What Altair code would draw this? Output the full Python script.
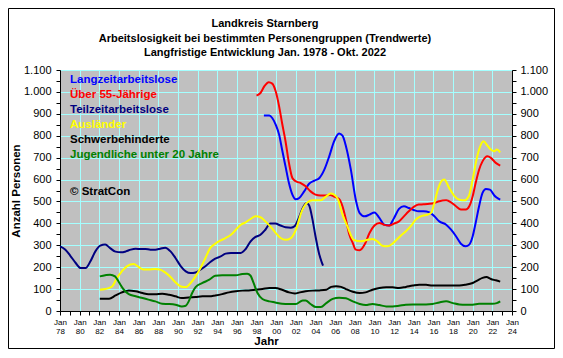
import altair as alt
import pandas as pd

# ---------------- data ----------------
SERIES = ["Langzeitarbeitslose", "Über 55-Jährige", "Teilzeitarbeitslose",
          "Ausländer", "Schwerbehinderte", "Jugendliche unter 20 Jahre"]
COLORS = ["#0000FF", "#FF0000", "#000080", "#FFFF00", "#000000", "#008000"]

LZ_YEARS = [1998.75, 1999.3, 1999.6, 1999.95, 2000.3, 2000.6, 2000.95, 2001.3, 2001.65, 2002.0,
            2002.35, 2002.85, 2003.35, 2003.9, 2004.4, 2004.9, 2005.4, 2005.9, 2006.4, 2006.75,
            2007.1, 2007.6, 2008.1, 2008.5, 2009.0, 2009.5, 2010.0, 2010.5, 2011.0, 2011.5,
            2012.0, 2012.5, 2013.0, 2013.5, 2014.0, 2014.5, 2015.0, 2015.6, 2016.1, 2016.6,
            2017.3, 2017.8, 2018.3, 2018.8, 2019.3, 2019.65, 2020.0, 2020.3, 2020.65, 2021.0,
            2021.35, 2021.75, 2022.2, 2022.4, 2022.8]
LZ_VALUES = [892, 892, 881, 851, 805, 737, 660, 584, 531, 510,
             516, 546, 581, 595, 607, 645, 706, 775, 810, 800,
             752, 645, 508, 447, 432, 440, 450, 425, 394, 390,
             425, 466, 478, 470, 461, 455, 455, 450, 432, 409,
             394, 371, 341, 307, 295, 303, 341, 402, 478, 539,
             557, 554, 527, 519, 508]

U55_YEARS = [1998.0, 1998.4, 1998.8, 1999.25, 1999.6, 1999.95, 2000.3, 2000.6, 2000.95, 2001.3,
             2001.65, 2002.0, 2002.5, 2003.0, 2003.5, 2004.0, 2004.5, 2005.0, 2005.5, 2005.9,
             2006.4, 2006.75, 2007.1, 2007.45, 2007.8, 2008.1, 2008.5, 2009.0, 2009.5, 2010.0,
             2010.5, 2011.0, 2011.5, 2012.0, 2012.5, 2013.0, 2013.5, 2014.0, 2014.5, 2015.0,
             2015.6, 2016.1, 2016.6, 2017.3, 2017.8, 2018.3, 2018.8, 2019.3, 2019.65, 2020.0,
             2020.3, 2020.65, 2021.0, 2021.5, 2021.85, 2022.35, 2022.8]
U55_VALUES = [983, 995, 1026, 1044, 1038, 1003, 934, 858, 775, 676,
              607, 592, 584, 569, 546, 531, 527, 527, 530, 522,
              511, 478, 417, 348, 310, 280, 277, 303, 356, 390,
              402, 393, 390, 399, 409, 432, 455, 475, 486, 487,
              489, 493, 501, 505, 496, 478, 463, 463, 478, 524,
              584, 645, 683, 706, 699, 676, 664]

TZ_YEARS = [1978.0, 1978.55, 1979.05, 1979.6, 1980.1, 1980.6, 1981.1, 1981.6, 1982.1, 1982.6,
            1983.1, 1983.65, 1984.2, 1984.7, 1985.2, 1985.7, 1986.2, 1986.7, 1987.2, 1987.7,
            1988.2, 1988.7, 1989.25, 1989.75, 1990.3, 1990.8, 1991.3, 1991.8, 1992.3, 1992.8,
            1993.3, 1993.8, 1994.35, 1994.85, 1995.4, 1995.9, 1996.4, 1996.9, 1997.4, 1997.9,
            1998.4, 1998.9, 1999.4, 1999.9, 2000.45, 2000.95, 2001.5, 2001.9, 2002.3, 2002.65,
            2003.1, 2003.35, 2003.7, 2004.0, 2004.35, 2004.6, 2004.77]
TZ_VALUES = [295, 280, 252, 219, 196, 196, 227, 272, 298, 303,
             287, 271, 268, 272, 280, 284, 283, 283, 280, 280,
             284, 289, 272, 242, 204, 181, 173, 176, 189, 204,
             224, 239, 249, 262, 265, 265, 265, 283, 318, 338,
             348, 371, 399, 399, 390, 382, 380, 388, 425, 465,
             493, 483, 417, 341, 265, 227, 207]

AU_YEARS = [1982.05, 1982.6, 1983.3, 1983.8, 1984.3, 1984.8, 1985.5, 1986.0, 1986.5, 1987.0,
            1987.7, 1988.2, 1988.7, 1989.25, 1989.75, 1990.3, 1990.8, 1991.3, 1991.8, 1992.3,
            1992.8, 1993.3, 1993.8, 1994.35, 1994.85, 1995.4, 1995.9, 1996.4, 1996.9, 1997.4,
            1997.9, 1998.4, 1998.9, 1999.4, 1999.9, 2000.45, 2000.95, 2001.5, 2002.0, 2002.6,
            2003.2, 2003.7, 2004.5, 2005.0, 2005.55, 2005.9, 2006.3, 2006.7, 2007.25, 2007.9,
            2008.6, 2009.3, 2009.8, 2010.3, 2010.8, 2011.3, 2011.8, 2012.2, 2012.7, 2013.2,
            2013.7, 2014.2, 2014.7, 2015.25, 2015.75, 2016.1, 2016.45, 2016.8, 2017.1, 2017.6,
            2018.1, 2018.65, 2019.15, 2019.6, 2020.0, 2020.35, 2020.7, 2021.1, 2021.5, 2021.85,
            2022.2, 2022.45, 2022.8]
AU_VALUES = [97, 100, 112, 151, 181, 204, 214, 201, 189, 189,
             192, 189, 176, 155, 131, 112, 109, 128, 158, 196,
             242, 288, 307, 322, 333, 348, 371, 394, 405, 420,
             432, 428, 409, 386, 359, 333, 325, 333, 370, 455,
             496, 505, 505, 520, 536, 531, 508, 447, 386, 325,
             318, 325, 329, 318, 298, 295, 306, 323, 345, 364,
             387, 417, 432, 438, 447, 493, 554, 592, 600, 562,
             527, 508, 505, 524, 600, 683, 744, 775, 755, 737,
             729, 737, 724]

SB_YEARS = [1982.05, 1983.0, 1983.65, 1984.3, 1985.0, 1985.7, 1986.4, 1987.0, 1987.7, 1988.4,
            1989.1, 1989.75, 1990.4, 1991.1, 1991.8, 1992.5, 1993.2, 1993.8, 1994.5, 1995.2,
            1995.9, 1996.55, 1997.2, 1997.9, 1998.6, 1999.3, 1999.9, 2000.6, 2001.3, 2001.9,
            2002.4, 2003.0, 2003.7, 2004.4, 2005.1, 2005.6, 2006.1, 2006.6, 2007.1, 2007.8,
            2008.5, 2009.1, 2009.8, 2010.5, 2011.2, 2011.85, 2012.5, 2013.2, 2013.9, 2014.55,
            2015.25, 2015.9, 2016.6, 2017.3, 2018.0, 2018.65, 2019.3, 2020.0, 2020.5, 2021.0,
            2021.4, 2021.85, 2022.35, 2022.8]
SB_VALUES = [56, 56, 71, 85, 94, 90, 82, 77, 77, 79,
             74, 67, 59, 62, 64, 67, 67, 71, 77, 85,
             90, 93, 94, 97, 100, 105, 105, 97, 85, 80,
             85, 90, 93, 94, 97, 110, 113, 110, 100, 88,
             82, 85, 97, 105, 108, 108, 105, 110, 116, 120,
             120, 116, 116, 116, 116, 116, 120, 128, 140, 151,
             155, 146, 140, 134]

JU_YEARS = [1982.05, 1982.6, 1983.1, 1983.6, 1984.0, 1984.5, 1985.0, 1985.7, 1986.4, 1987.0,
            1987.7, 1988.4, 1989.1, 1989.75, 1990.4, 1990.8, 1991.1, 1991.45, 1991.8, 1992.5,
            1993.2, 1993.8, 1994.5, 1995.2, 1995.9, 1996.55, 1997.05, 1997.4, 1997.7, 1998.1,
            1998.6, 1999.3, 1999.9, 2000.6, 2001.3, 2002.0, 2002.7, 2003.0, 2003.5, 2004.05,
            2004.55, 2005.1, 2005.75, 2006.4, 2007.1, 2007.8, 2008.5, 2009.1, 2009.8, 2010.5,
            2011.2, 2011.85, 2012.5, 2013.2, 2013.9, 2014.55, 2015.25, 2015.9, 2016.6, 2017.3,
            2018.0, 2018.65, 2019.3, 2020.0, 2020.65, 2021.35, 2022.0, 2022.45, 2022.8]
JU_VALUES = [158, 163, 166, 158, 131, 97, 77, 67, 59, 52,
             44, 33, 32, 29, 21, 24, 44, 82, 109, 128,
             143, 161, 163, 163, 163, 169, 170, 161, 128, 82,
             55, 44, 39, 33, 32, 32, 48, 48, 32, 18,
             18, 36, 55, 61, 58, 44, 32, 27, 32, 27,
             21, 21, 24, 29, 30, 30, 30, 32, 39, 44,
             36, 30, 29, 29, 33, 33, 33, 36, 44]

TITLE_LINES = ["Landkreis Starnberg",
               "Arbeitslosigkeit bei bestimmten Personengruppen (Trendwerte)",
               "Langfristige Entwicklung Jan. 1978 - Okt. 2022"]
COPYRIGHT = "© StratCon"
X_TITLE = "Jahr"
Y_TITLE = "Anzahl Personen"
X_TICKS = list(range(1978, 2025))
Y_TICKS = list(range(0, 1101, 50))

# ---------------- table ----------------
frames = []
for name, ys, vs in zip(SERIES,
                        [LZ_YEARS, U55_YEARS, TZ_YEARS, AU_YEARS, SB_YEARS, JU_YEARS],
                        [LZ_VALUES, U55_VALUES, TZ_VALUES, AU_VALUES, SB_VALUES, JU_VALUES]):
    frames.append(pd.DataFrame({"year": ys, "value": vs, "series": name}))
df = pd.concat(frames, ignore_index=True)

FONT = "Liberation Sans"
GRID = "#A4FFFF"
W, H = 452, 241
PAD_L, PAD_T, PAD_R, PAD_B = 52, 62, 43, 38

x_axis = alt.Axis(
    values=X_TICKS, grid=True, gridColor=GRID,
    gridOpacity={"condition": {"test": "datum.value % 2 === 0", "value": 1}, "value": 0},
    labelExpr="datum.value % 2 === 0 ? ['Jan', substring(toString(datum.value), 2, 4)] : ''",
    labelFont=FONT, labelFontSize=8, labelLineHeight=9.5, labelBaseline="top",
    labelPadding=3, labelOverlap=False, labelFlush=False, labelColor="black",
    tickColor="black", tickSize=4, domainColor="black",
    title=X_TITLE, titleFont=FONT, titleFontSize=11.5, titleFontWeight="bold",
    titleX=206, titleY=30, titleAlign="center", titleBaseline="middle", titleColor="black",
)
y_left = alt.Axis(
    orient="left", values=Y_TICKS, grid=True, gridColor=GRID,
    gridOpacity={"condition": {"test": "datum.value % 100 === 0", "value": 1}, "value": 0},
    labelExpr="datum.value % 100 === 0 ? replace(format(datum.value, ','), ',', '.') : ''",
    labelFont=FONT, labelFontSize=11, labelPadding=5, labelColor="black", labelOverlap=False,
    tickColor="black", tickSize=4, domainColor="black",
    title=Y_TITLE, titleFont=FONT, titleFontSize=11.5, titleFontWeight="bold",
    titleX=-44, titleY=H / 2, titleAngle=270, titleAlign="center", titleBaseline="middle",
    titleColor="black",
)
y_right = alt.Axis(
    orient="right", values=Y_TICKS, grid=False,
    labelExpr="datum.value % 100 === 0 ? replace(format(datum.value, ','), ',', '.') : ''",
    labelFont=FONT, labelFontSize=11, labelPadding=4, labelColor="black", labelOverlap=False,
    tickColor="black", tickSize=4, domainColor="black", title=None,
)

x_enc = alt.X("year:Q", scale=alt.Scale(domain=[1978, 2024], nice=False, zero=False), axis=x_axis)
color_enc = alt.Color("series:N", scale=alt.Scale(domain=SERIES, range=COLORS), legend=None)

lines = alt.Chart(df).mark_line(strokeWidth=2, interpolate="monotone").encode(
    x=x_enc,
    y=alt.Y("value:Q", scale=alt.Scale(domain=[0, 1100], nice=False), axis=y_left),
    color=color_enc,
    detail="series:N",
)
right = alt.Chart(df).mark_line(strokeWidth=2, opacity=0).encode(
    x=x_enc,
    y=alt.Y("value:Q", scale=alt.Scale(domain=[0, 1100], nice=False), axis=y_right),
    detail="series:N",
)

frame = alt.Chart(pd.DataFrame({"f": [0]})).mark_rect(
    fillOpacity=0, stroke="black", strokeWidth=1
).encode(
    x=alt.value(-PAD_L + 0.5), x2=alt.value(W + PAD_R - 0.5),
    y=alt.value(-PAD_T + 0.5), y2=alt.value(H + PAD_B - 0.5),
)

texts = []
for i, line in enumerate(TITLE_LINES):
    texts.append(
        alt.Chart(pd.DataFrame({"t": [line]})).mark_text(
            align="center", baseline="middle", font=FONT, fontSize=11,
            fontWeight="bold", color="black"
        ).encode(x=alt.value(205), y=alt.value(-46 + 14.5 * i), text="t:N")
    )
for i, (label, col) in enumerate(zip(SERIES, COLORS)):
    texts.append(
        alt.Chart(pd.DataFrame({"t": [label]})).mark_text(
            align="left", baseline="middle", font=FONT, fontSize=11.5,
            fontWeight="bold", color=col
        ).encode(x=alt.value(10), y=alt.value(10 + 15 * i), text="t:N")
    )
texts.append(
    alt.Chart(pd.DataFrame({"t": [COPYRIGHT]})).mark_text(
        align="left", baseline="middle", font=FONT, fontSize=11.5,
        fontWeight="bold", color="black"
    ).encode(x=alt.value(10), y=alt.value(122), text="t:N")
)

chart = alt.layer(frame, lines, right, *texts).resolve_axis(y="independent").properties(
    width=W, height=H,
    autosize=alt.AutoSizeParams(type="none"),
    padding={"left": PAD_L, "top": PAD_T, "right": PAD_R, "bottom": PAD_B},
    background="white",
).configure_view(fill="#C0C0C0", stroke="#808080")

chart.save("out.html", embed_options={"renderer": "svg", "actions": False})
